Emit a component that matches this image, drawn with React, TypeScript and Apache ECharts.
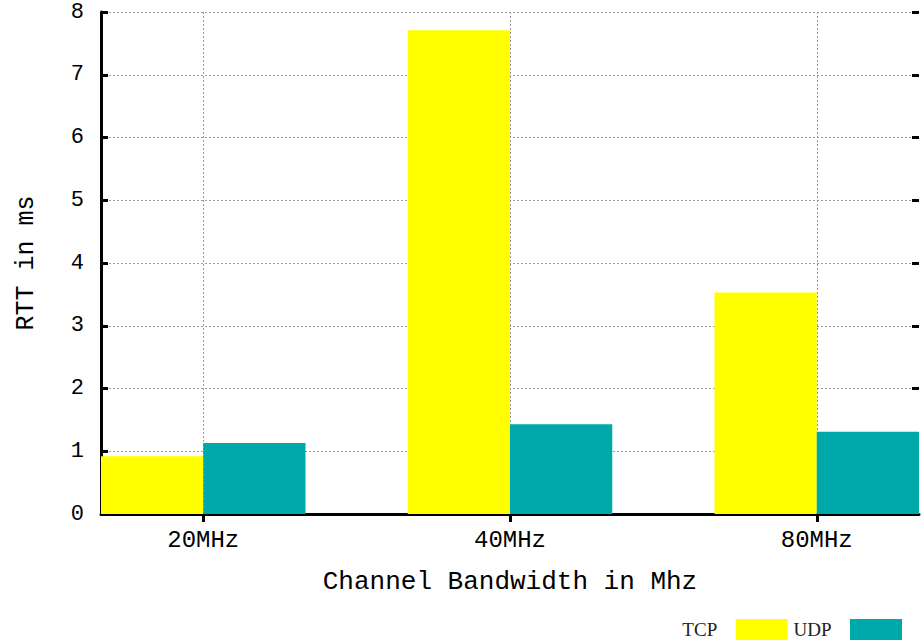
import React, { useEffect, useRef } from 'react';
import * as echarts from 'echarts';

const categories = ['20MHz', '40MHz', '80MHz'];
const tcpValues = [0.92, 7.71, 3.53];
const udpValues = [1.13, 1.43, 1.31];
const seriesNames = ['TCP', 'UDP'];
const seriesColors = ['#FFFF00', '#00A9A9'];
const yMin = 0;
const yMax = 8;
const yInterval = 1;
const xTitle = 'Channel Bandwidth in Mhz';
const yTitle = 'RTT in ms';

// each category occupies 3 slots around its centre: TCP bar | centre | UDP bar
const slots: string[] = [];
for (let i = 0; i < categories.length * 3; i++) slots.push('');
categories.forEach((c, i) => {
  slots[3 * i + 1] = c;
});
const isCatSlot = (index: number) => index % 3 === 1;

const mono = 'Liberation Mono, Courier New, monospace';

function makeRender(color: string, side: number) {
  return (params: any, api: any) => {
    const idx = api.value(0);
    const v = api.value(1);
    const a = api.coord([idx + (side < 0 ? -1 : 0), 0]);
    const b = api.coord([idx + (side < 0 ? 0 : 1), v]);
    return {
      type: 'rect',
      shape: { x: a[0], y: b[1], width: b[0] - a[0], height: a[1] - b[1] },
      style: { fill: color },
    };
  };
}

export default function App() {
  const ref = useRef<HTMLDivElement>(null);
  useEffect(() => {
    if (!ref.current) return;
    const chart = echarts.init(ref.current, null, { renderer: 'svg' });
    const tickStyle = { color: '#000', width: 3 };
    chart.setOption({
      animation: false,
      backgroundColor: '#fff',
      grid: { left: 101, right: 5, top: 12, bottom: 126 },
      legend: {
        data: seriesNames.map((n) => ({ name: n, icon: 'rect' })),
        formatter: (name: string) => name + '   ',
        right: 22,
        top: 619,
        padding: 0,
        align: 'right',
        itemWidth: 52,
        itemHeight: 21,
        itemGap: 5,
        textStyle: {
          fontFamily: 'Liberation Serif, Times New Roman, serif',
          fontSize: 19,
          color: '#222',
        },
      },
      xAxis: [
        {
          type: 'category',
          data: slots,
          boundaryGap: false,
          position: 'bottom',
          axisLine: { show: true, lineStyle: { color: '#000', width: 3 } },
          axisTick: { show: false },
          axisLabel: {
            interval: 0,
            margin: 14,
            fontFamily: mono,
            fontSize: 24,
            color: '#000',
          },
          splitLine: {
            show: true,
            interval: (index: number) => isCatSlot(index),
            lineStyle: { color: '#999', type: [2, 2], width: 1 },
          },
          name: xTitle,
          nameLocation: 'middle',
          nameGap: 55,
          nameTextStyle: { fontFamily: mono, fontSize: 26, color: '#000' },
        },
        {
          type: 'category',
          data: slots,
          boundaryGap: false,
          position: 'top',
          axisLine: { show: false },
          axisTick: {
            show: true,
            inside: true,
            length: 8,
            interval: (index: number) => isCatSlot(index),
            lineStyle: tickStyle,
          },
          axisLabel: { show: false },
          splitLine: { show: false },
        },
      ],
      yAxis: [
        {
          type: 'value',
          min: yMin,
          max: yMax,
          interval: yInterval,
          position: 'left',
          axisLine: { show: true, lineStyle: { color: '#000', width: 3 } },
          axisTick: { show: true, inside: true, length: 7, lineStyle: tickStyle },
          axisLabel: { margin: 17, fontFamily: mono, fontSize: 22, color: '#000' },
          splitLine: { show: true, lineStyle: { color: '#999', type: [2, 2], width: 1 } },
          name: yTitle,
          nameLocation: 'middle',
          nameGap: 62,
          nameTextStyle: { fontFamily: mono, fontSize: 25, color: '#000' },
        },
        {
          type: 'value',
          min: yMin,
          max: yMax,
          interval: yInterval,
          position: 'right',
          axisLine: { show: false },
          axisTick: { show: true, inside: true, length: 7, lineStyle: tickStyle },
          axisLabel: { show: false },
          splitLine: { show: false },
        },
      ],
      series: [
        {
          name: seriesNames[0],
          type: 'custom',
          xAxisIndex: 0,
          yAxisIndex: 0,
          encode: { x: 0, y: 1 },
          itemStyle: { color: seriesColors[0] },
          data: tcpValues.map((v, i) => [3 * i + 1, v]),
          renderItem: makeRender(seriesColors[0], -1),
          z: 3,
        },
        {
          name: seriesNames[1],
          type: 'custom',
          xAxisIndex: 0,
          yAxisIndex: 0,
          encode: { x: 0, y: 1 },
          itemStyle: { color: seriesColors[1] },
          data: udpValues.map((v, i) => [3 * i + 1, v]),
          renderItem: makeRender(seriesColors[1], 1),
          z: 3,
        },
      ],
    });
    return () => chart.dispose();
  }, []);
  return (
    <div
      ref={ref}
      style={{ position: 'fixed', left: 0, top: 0, width: 924, height: 640 }}
    />
  );
}
